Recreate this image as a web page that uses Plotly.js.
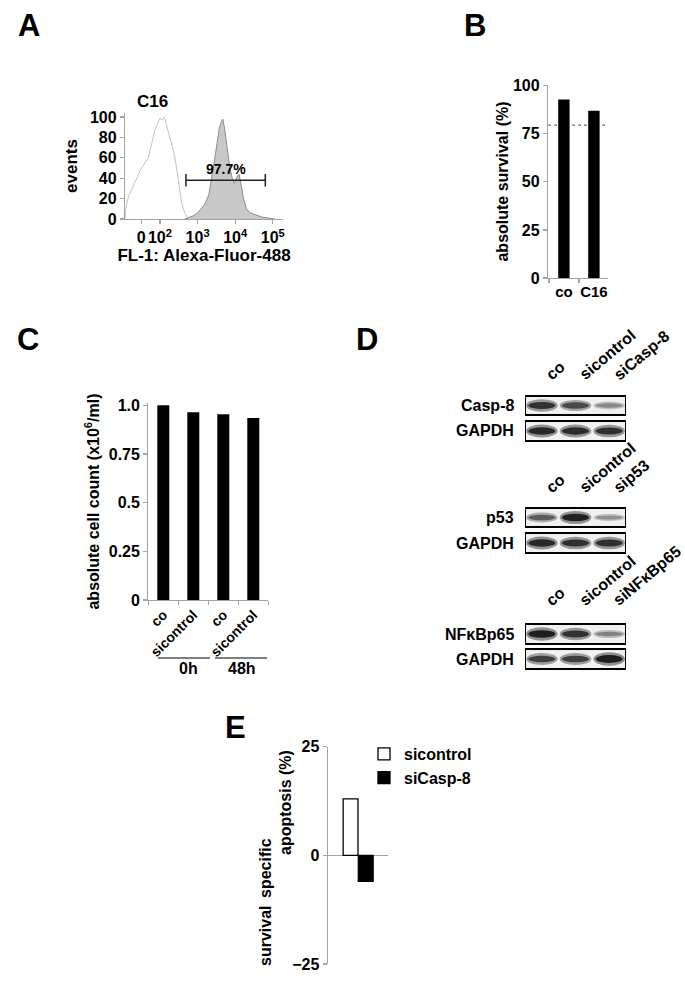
<!DOCTYPE html>
<html>
<head>
<meta charset="utf-8">
<script src="https://cdn.plot.ly/plotly-3.0.1.min.js"></script>
<style>html,body{margin:0;padding:0;background:#fff;}#fig{width:685px;height:982px;}</style>
</head>
<body>
<div id="fig"></div>
<script>
// ---------------- DATA ----------------
// Panel A: flow cytometry histograms (x in log-decade display units, y = events)
const ctrlHistX = [1.07, 1.1, 1.16, 1.22, 1.29, 1.38, 1.47, 1.53, 1.6, 1.69, 1.78, 1.87, 1.94, 2.0, 2.06, 2.12, 2.18, 2.27, 2.35, 2.42, 2.49, 2.58, 2.66, 2.72, 2.78];
const ctrlHistY = [0, 12, 22, 27, 32, 40, 47, 51, 55, 60, 74, 88, 94, 99, 97, 100, 91, 80, 68, 55, 36, 15, 6, 2, 0];
const c16HistX = [2.65, 2.75, 2.88, 3.0, 3.1, 3.2, 3.3, 3.38, 3.45, 3.52, 3.58, 3.63, 3.67, 3.72, 3.78, 3.85, 3.92, 3.98, 4.04, 4.1, 4.16, 4.22, 4.3, 4.4, 4.55, 4.7, 4.88, 5.05];
const c16HistY = [0, 1, 3, 6, 10, 15, 24, 40, 58, 75, 90, 95, 98, 88, 72, 52, 40, 35, 41, 44, 33, 20, 10, 6, 4, 2, 1, 0];
const gateX = [2.69, 4.8];
const gateY = 38;
const gateLabel = '97.7%';
const histTickVals = [1.5, 2, 3, 4, 5];
const histTickText = ['0', '10<sup>2</sup>', '10<sup>3</sup>', '10<sup>4</sup>', '10<sup>5</sup>'];

// Panel B: absolute survival
const survivalCats = ['co', 'C16'];
const survivalVals = [92.9, 87.0];
const survivalThreshold = 79.5;

// Panel C: absolute cell count
const countKeys = ['co_0h', 'sicontrol_0h', 'co_48h', 'sicontrol_48h'];
const countLabels = ['co', 'sicontrol', 'co', 'sicontrol'];
const countVals = [1.0, 0.964, 0.954, 0.935];
const countGroups = ['0h', '48h'];

// Panel D: western blots (relative band intensity per lane)
const blotLaneIdx = [0, 1, 2];
const casp8Band = [0.85, 0.72, 0.38];
const gapdh1Band = [0.9, 0.88, 0.86];
const p53Band = [0.62, 0.92, 0.33];
const gapdh2Band = [0.9, 0.86, 0.86];
const nfkbBand = [0.95, 0.85, 0.42];
const gapdh3Band = [0.78, 0.78, 0.96];
const lanes1 = ['co', 'sicontrol', 'siCasp-8'];
const lanes2 = ['co', 'sicontrol', 'sip53'];
const lanes3 = ['co', 'sicontrol', 'siNF\u03baBp65'];

// Panel E: specific apoptosis / survival
const apoCats = ['sicontrol', 'siCasp-8'];
const apoVals = [13.0, -6.0];

// ---------------- HELPERS ----------------
const W = 685, H = 982;
const px = x => x / W;
const py = y => 1 - y / H;
const FAM = 'Liberation Sans, Arial, Helvetica, sans-serif';
const fnt = (s, c) => ({family: FAM, size: s, color: c || '#000', weight: 'bold'});
const GRAY = '#a3a3a3';
const axBase = {showline: true, linecolor: GRAY, linewidth: 1.2, ticks: 'outside', tickcolor: GRAY, ticklen: 4, tickwidth: 1.2,
  showgrid: false, zeroline: false, fixedrange: true, tickfont: fnt(16)};
const txt = (text, x, y, size, extra) => Object.assign({text: text, x: px(x), y: py(y), xref: 'paper', yref: 'paper',
  xanchor: 'center', yanchor: 'middle', showarrow: false, font: fnt(size)}, extra || {});

// ---------------- TRACES ----------------
const traces = [];
traces.push({type: 'scatter', mode: 'lines', x: ctrlHistX, y: ctrlHistY, xaxis: 'x', yaxis: 'y',
  line: {color: '#c4c4c4', width: 1}, showlegend: false, hoverinfo: 'skip'});
traces.push({type: 'scatter', mode: 'lines', x: c16HistX, y: c16HistY, xaxis: 'x', yaxis: 'y', fill: 'tozeroy',
  fillcolor: '#c8c8c8', line: {color: '#8c8c8c', width: 1}, showlegend: false, hoverinfo: 'skip'});
traces.push({type: 'scatter', mode: 'lines+markers', x: gateX, y: [gateY, gateY], xaxis: 'x', yaxis: 'y',
  line: {color: '#222', width: 1.5}, marker: {symbol: 'line-ns', size: 9, line: {color: '#222', width: 1.5}},
  showlegend: false, hoverinfo: 'skip'});

traces.push({type: 'bar', x: survivalCats, y: survivalVals, xaxis: 'x2', yaxis: 'y2', width: 0.38,
  marker: {color: '#000'}, showlegend: false});

traces.push({type: 'bar', x: countKeys, y: countVals, xaxis: 'x3', yaxis: 'y3', width: 0.4,
  marker: {color: '#000'}, showlegend: false});

traces.push({type: 'bar', name: apoCats[0], x: [0], y: [apoVals[0]], xaxis: 'x4', yaxis: 'y4', width: 0.245, offset: -0.245,
  marker: {color: '#fff', line: {color: '#000', width: 1.3}}});
traces.push({type: 'bar', name: apoCats[1], x: [0], y: [apoVals[1]], xaxis: 'x4', yaxis: 'y4', width: 0.245, offset: 0.005,
  marker: {color: '#000', line: {color: '#000', width: 1.3}}});

// ---------------- SHAPES & ANNOTATIONS ----------------
const shapes = [];
const ann = [];

// panel letters
[['A', 28.5, 26], ['B', 475, 26], ['C', 28, 339], ['D', 367, 339], ['E', 235.5, 727]].forEach(p => {
  ann.push(txt(p[0], p[1], p[2], 31));
});

// Panel A extras
ann.push(txt('C16', 152.5, 102, 17));
ann.push({text: gateLabel, x: (gateX[0] + gateX[1]) / 2, y: gateY, xref: 'x', yref: 'y', xanchor: 'center', yanchor: 'bottom', yshift: 1,
  showarrow: false, font: fnt(14)});

// Panel B threshold
shapes.push({type: 'line', xref: 'x2', yref: 'y2', x0: -0.53, x1: 1.4, y0: survivalThreshold, y1: survivalThreshold,
  line: {color: '#555', width: 1, dash: 'dot'}, layer: 'below'});

// Panel C group underlines and labels
[[158, 210, 188], [215, 267, 242]].forEach((g, i) => {
  shapes.push({type: 'line', xref: 'paper', yref: 'paper', x0: px(g[0]), x1: px(g[1]), y0: py(658), y1: py(658),
    line: {color: '#555', width: 1.5}});
  ann.push(txt(countGroups[i], g[2], 668, 16));
});

// Panel D blots
const blotRows = [
  {label: 'Casp-8', top: 396, bot: 415, bands: casp8Band},
  {label: 'GAPDH', top: 421, bot: 441, bands: gapdh1Band},
  {label: 'p53', top: 508, bot: 527, bands: p53Band},
  {label: 'GAPDH', top: 533, bot: 553, bands: gapdh2Band},
  {label: 'NF\u03baBp65', top: 624, bot: 644, bands: nfkbBand},
  {label: 'GAPDH', top: 649, bot: 669, bands: gapdh3Band}
];
blotRows.forEach(r => {
  shapes.push({type: 'rect', xref: 'x5', yref: 'y5', x0: -0.5, x1: 2.5, y0: r.top, y1: r.bot,
    fillcolor: '#f0f0f0', line: {color: '#000', width: 2}});
  const cy = (r.top + r.bot) / 2;
  r.bands.forEach((v, i) => {
    const g = Math.round(205 - 190 * v);
    const col = `rgb(${g},${g},${g})`;
    const ho = 2 + 5 * v, hi = 1 + 3 * v;
    shapes.push({type: 'circle', xref: 'x5', yref: 'y5', x0: blotLaneIdx[i] - 0.47, x1: blotLaneIdx[i] + 0.47,
      y0: cy - ho, y1: cy + ho, fillcolor: col, opacity: 0.45, line: {width: 0}});
    shapes.push({type: 'circle', xref: 'x5', yref: 'y5', x0: blotLaneIdx[i] - 0.4, x1: blotLaneIdx[i] + 0.4,
      y0: cy - hi, y1: cy + hi, fillcolor: col, opacity: 0.95, line: {width: 0}});
  });
  ann.push(txt(r.label, 516, cy, 16, {xanchor: 'right'}));
});
[[lanes1, 386], [lanes2, 499], [lanes3, 612]].forEach(b => {
  b[0].forEach((t, i) => {
    ann.push({text: t, x: blotLaneIdx[i], xref: 'x5', y: py(b[1]), yref: 'paper', xanchor: 'left', yanchor: 'bottom',
      xshift: -2, textangle: -40, showarrow: false, font: fnt(16)});
  });
});

// Panel E y-axis title pieces
ann.push(txt('apoptosis (%)', 285, 803, 16, {textangle: -90}));
ann.push(txt('specific', 265, 868, 16, {textangle: -90}));
ann.push(txt('survival', 265, 936, 16, {textangle: -90}));

// ---------------- LAYOUT ----------------
const layout = {
  width: W, height: H, margin: {l: 0, r: 0, t: 0, b: 0},
  paper_bgcolor: '#fff', plot_bgcolor: 'rgba(0,0,0,0)',
  font: fnt(16),
  showlegend: true,
  barmode: 'overlay',
  legend: {x: px(364), y: py(737), xanchor: 'left', yanchor: 'top', font: fnt(16), bgcolor: 'rgba(0,0,0,0)',
    tracegroupgap: 0, itemwidth: 30, traceorder: 'normal'},
  // Panel A
  xaxis: Object.assign({}, axBase, {domain: [px(125), px(283)], range: [1.07, 5.27], anchor: 'y',
    tickmode: 'array', tickvals: histTickVals, ticktext: histTickText, tickfont: fnt(16), tickangle: 0,
    title: {text: 'FL-1: Alexa-Fluor-488', font: fnt(17), standoff: 2}}),
  yaxis: Object.assign({}, axBase, {domain: [py(219), py(113)], range: [0, 104], anchor: 'x',
    tickmode: 'array', tickvals: [0, 20, 40, 60, 80, 100],
    title: {text: 'events', font: fnt(17), standoff: 8}}),
  // Panel B
  xaxis2: Object.assign({}, axBase, {domain: [px(548), px(608)], range: [-0.53, 1.47], anchor: 'y2', type: 'category',
    tickson: 'boundaries', tickfont: fnt(15), tickangle: 0}),
  yaxis2: Object.assign({}, axBase, {domain: [py(278), py(85)], range: [0, 100.4], anchor: 'x2',
    tickmode: 'array', tickvals: [0, 25, 50, 75, 100],
    title: {text: 'absolute survival (%)', font: fnt(16), standoff: 0}}),
  // Panel C
  xaxis3: Object.assign({}, axBase, {domain: [px(148.3), px(268.3)], range: [-0.5, 3.5], anchor: 'y3', type: 'category',
    tickmode: 'array', tickvals: countKeys, ticktext: countLabels, tickangle: -45, tickson: 'boundaries', tickfont: fnt(14)}),
  yaxis3: Object.assign({}, axBase, {domain: [py(600), py(403)], range: [0, 1.012], anchor: 'x3',
    tickmode: 'array', tickvals: [0, 0.25, 0.5, 0.75, 1.0], ticktext: ['0', '0.25', '0.5', '0.75', '1.0'],
    title: {text: 'absolute cell count (x10<sup>6</sup>/ml)', font: fnt(16), standoff: 5}}),
  // Panel E
  xaxis4: {domain: [px(327.7), px(388.3)], range: [-0.5, 0.5], anchor: 'y4', visible: false, fixedrange: true},
  yaxis4: Object.assign({}, axBase, {domain: [py(964), py(746.7)], range: [-25, 25], anchor: 'x4',
    tickmode: 'array', tickvals: [-25, 0, 25], zeroline: true, zerolinecolor: GRAY, zerolinewidth: 1.2, tickfont: fnt(16)}),
  // Panel D (blot canvas)
  xaxis5: {domain: [px(525), px(626)], range: [-0.5, 2.5], anchor: 'y5', visible: false, fixedrange: true},
  yaxis5: {domain: [py(675), py(390)], range: [675, 390], anchor: 'x5', visible: false, fixedrange: true},
  shapes: shapes,
  annotations: ann
};

Plotly.newPlot('fig', traces, layout, {staticPlot: true, displayModeBar: false});
</script>
</body>
</html>
